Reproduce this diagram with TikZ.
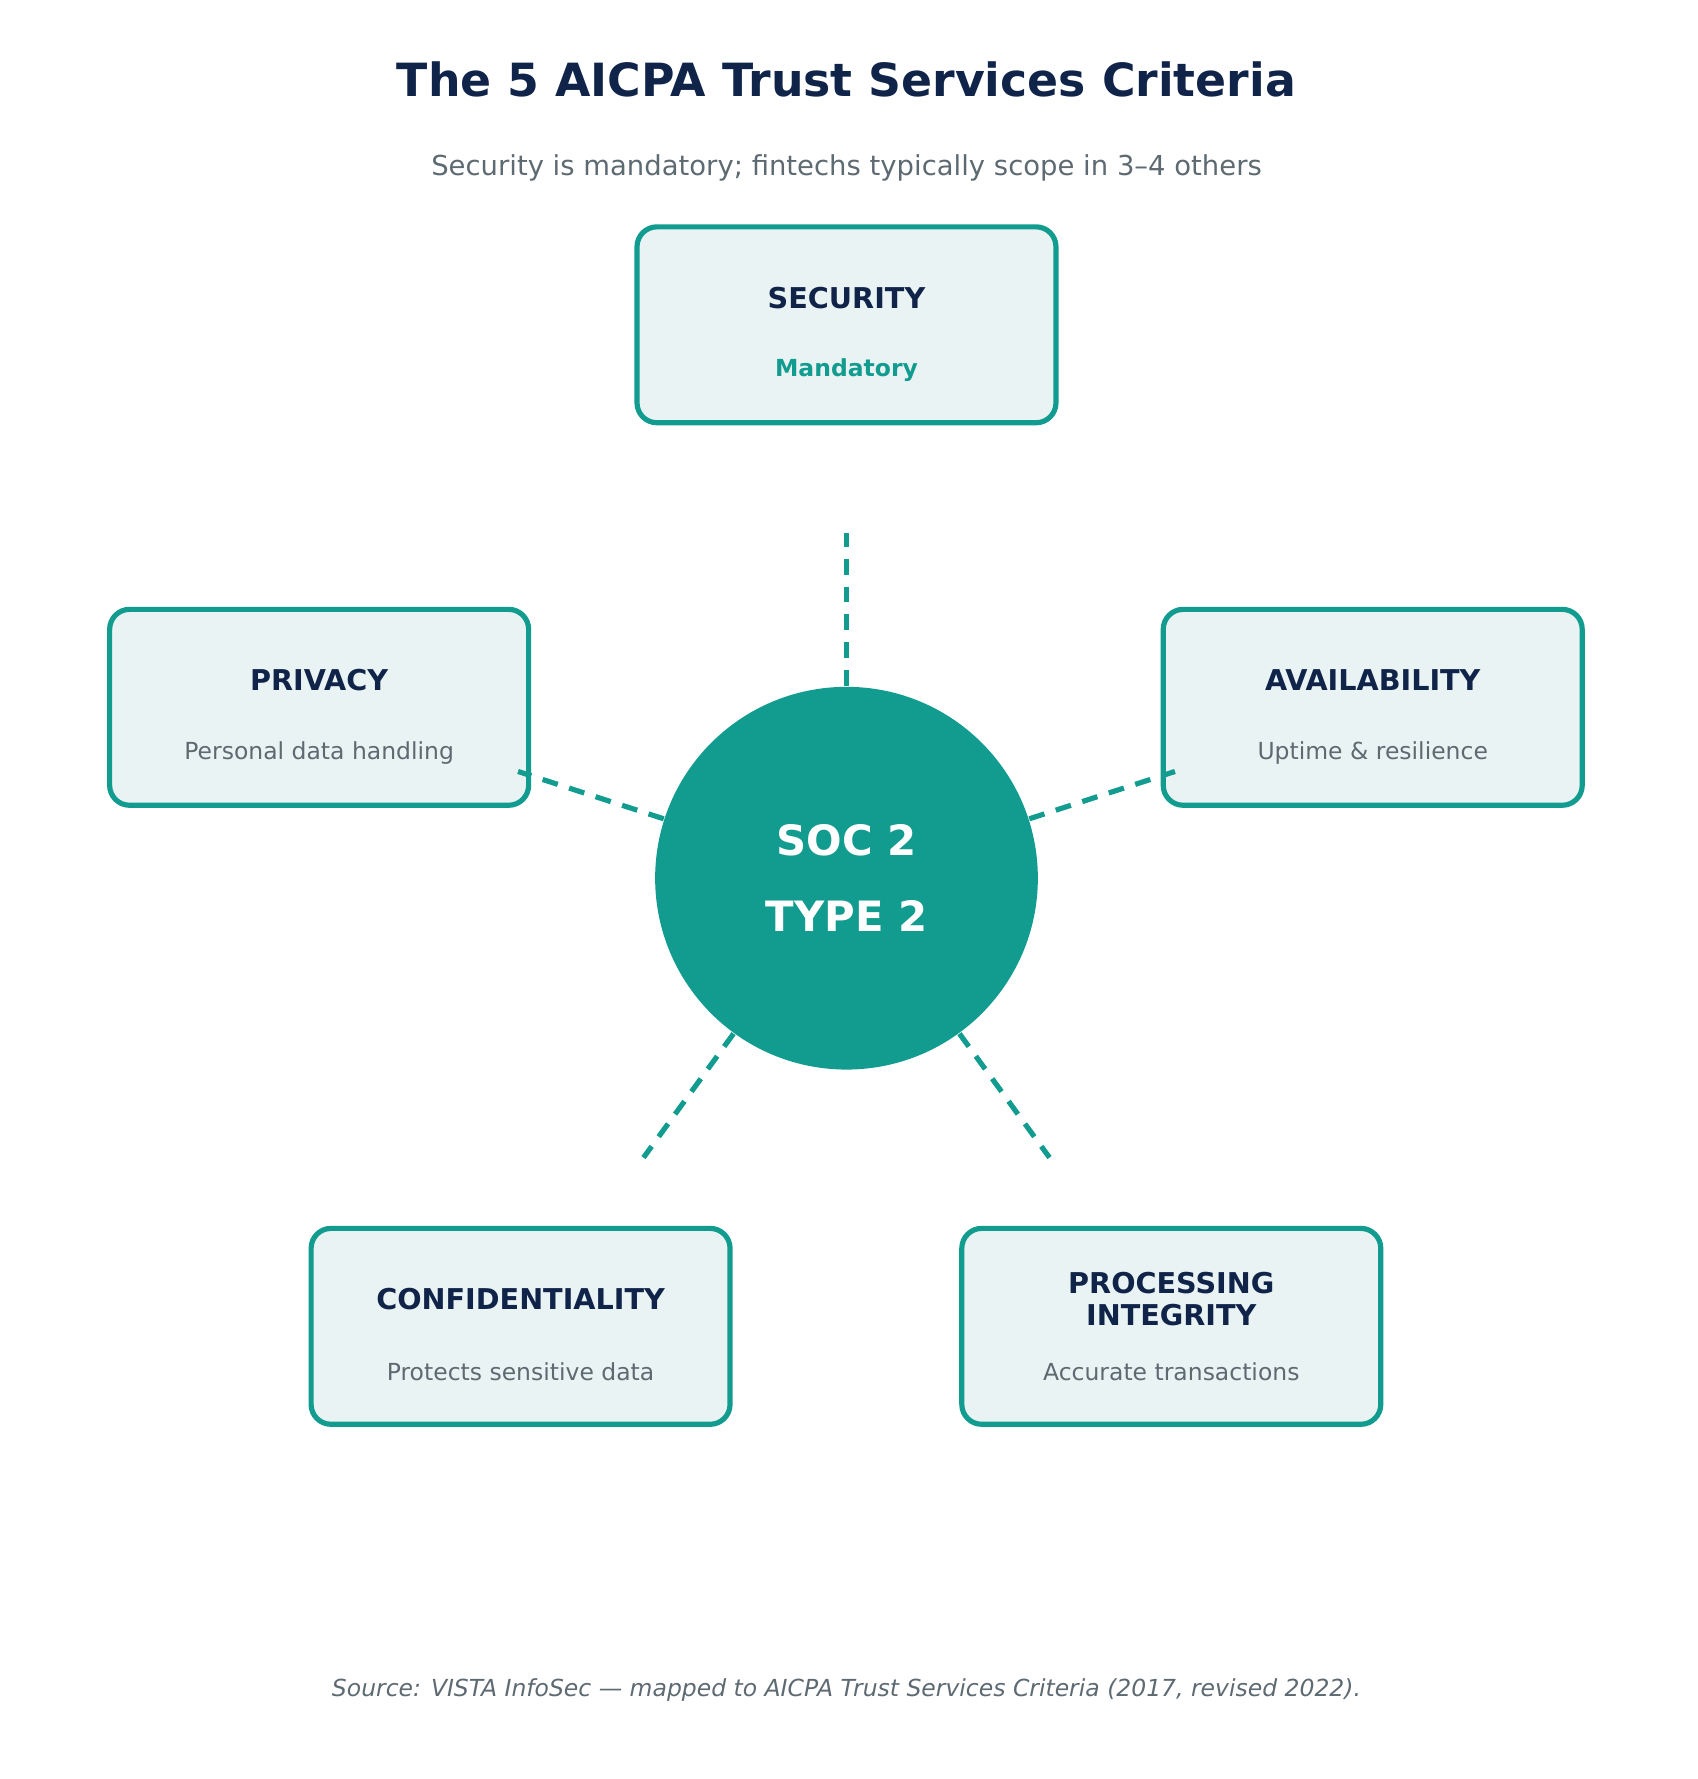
\documentclass[tikz,border=0pt]{standalone}
\usepackage{fontspec}
\setmainfont{DejaVu Sans}
\definecolor{teal}{HTML}{119C8F}
\definecolor{navy}{HTML}{10244A}
\definecolor{slate}{HTML}{5E6A72}
\definecolor{pale}{HTML}{EAF3F3}
\tikzset{
  critbox/.style={draw=teal, fill=pale, line width=1.3pt, rounded corners=5pt,
    minimum width=3.7cm, minimum height=1.73cm},
  crithead/.style={font=\fontsize{7.2}{8.2}\selectfont\bfseries, text=navy, align=center},
  critsub/.style={font=\fontsize{5.9}{7}\selectfont, text=slate},
  spoke/.style={teal, line width=1.3pt, dashed, dash pattern=on 4pt off 3pt}
}
\begin{document}
\begin{tikzpicture}[x=0.01cm, y=-0.01cm]
        \useasboundingbox (0,0) rectangle (1500,1572);
        \node[font=\fontsize{11.5}{13}\selectfont\bfseries, text=navy] (title) at (748,70) {The 5 AICPA Trust Services Criteria};
        \node[font=\fontsize{6.9}{8}\selectfont, text=slate] (subtitle) at (748,148) {Security is mandatory; fintechs typically scope in 3--4 others};

        \node[circle, fill=teal, minimum size=3.38cm, inner sep=0pt, align=center,
          text=white, font=\fontsize{10.5}{19}\selectfont\bfseries] (soc) at (748,776) {SOC 2\\TYPE 2};

        \node[critbox] (security) at (748,287) {};
        \node[crithead] at (748,263) {SECURITY};
        \node[critsub, text=teal, font=\fontsize{5.9}{7}\selectfont\bfseries] at (748,327) {Mandatory};

        \node[critbox] (privacy) at (282,625) {};
        \node[crithead] at (282,601) {PRIVACY};
        \node[critsub] at (282,665) {Personal data handling};

        \node[critbox] (availability) at (1213,625) {};
        \node[crithead] at (1213,601) {AVAILABILITY};
        \node[critsub] at (1213,665) {Uptime \& resilience};

        \node[critbox] (confidentiality) at (460,1172) {};
        \node[crithead] at (460,1148) {CONFIDENTIALITY};
        \node[critsub] at (460,1212) {Protects sensitive data};

        \node[critbox] (processing) at (1035,1172) {};
        \node[crithead] at (1035,1148) {PROCESSING\\INTEGRITY};
        \node[critsub] at (1035,1212) {Accurate transactions};

        % spokes from the centre
        \foreach \a in {90,162,18,234,306}
          \draw[spoke] (soc.\a) -- ([shift={(\a:3.05cm)}]soc.center);

        \node[font=\fontsize{5.9}{7}\selectfont\itshape, text=slate] (source) at (748,1493)
          {Source: VISTA InfoSec — mapped to AICPA Trust Services Criteria (2017, revised 2022).};
      \end{tikzpicture}
\end{document}
